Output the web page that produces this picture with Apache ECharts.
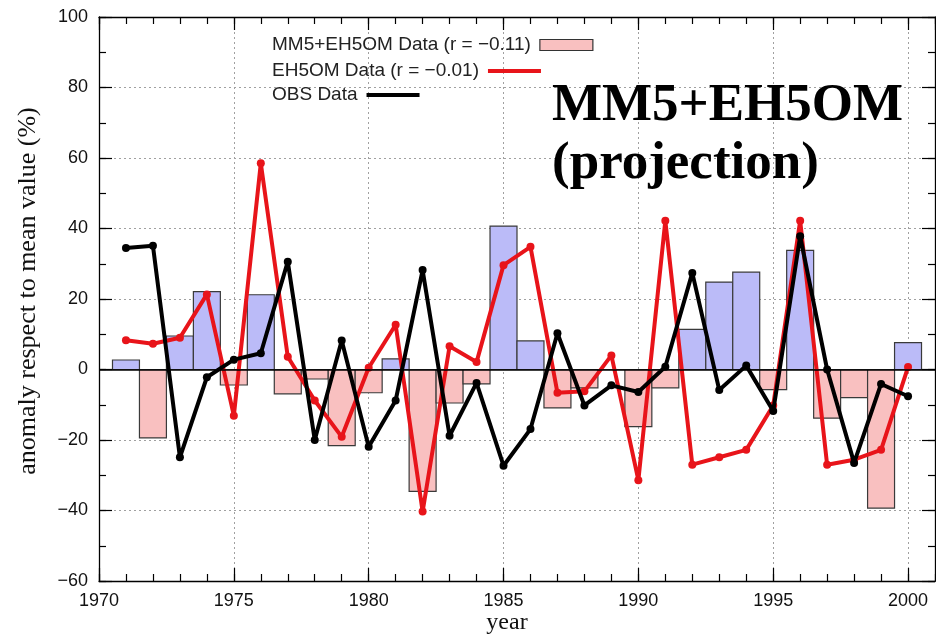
<!DOCTYPE html>
<html>
<head>
<meta charset="utf-8">
<script src="https://cdn.jsdelivr.net/npm/echarts@6/dist/echarts.min.js"></script>
<style>html,body{margin:0;padding:0;background:#fff;}#chart{width:936px;height:635px;}</style>
</head>
<body>
<div id="chart"></div>
<script>
const years = [1971,1972,1973,1974,1975,1976,1977,1978,1979,1980,1981,1982,1983,1984,1985,1986,1987,1988,1989,1990,1991,1992,1993,1994,1995,1996,1997,1998,1999,2000];
const mm5eh5om = [2.7,-19.4,9.5,22.1,-4.4,21.2,-6.9,-2.7,-21.6,-6.6,3.0,-34.6,-9.5,-4.1,40.7,8.1,-10.9,-5.2,0,-16.2,-5.2,11.4,24.8,27.6,-5.7,33.8,-13.8,-8.0,-39.3,7.6];
const eh5om = [8.3,7.3,9.0,21.3,-13.1,58.5,3.6,-8.8,-19.1,0.5,12.7,-40.3,6.6,2.1,29.6,34.8,-6.6,-6.2,4.0,-31.4,42.2,-27.0,-24.9,-22.8,-10.2,42.2,-27.0,-25.6,-22.8,0.7];
const obs = [34.5,35.1,-24.9,-2.2,2.8,4.6,30.6,-20.0,8.2,-21.9,-8.8,28.2,-18.8,-3.8,-27.3,-16.9,10.3,-10.2,-4.5,-6.4,0.8,27.4,-5.8,1.1,-11.8,37.8,0,-26.5,-4.1,-7.6];
const seriesNames = ['MM5+EH5OM Data (r = \u22120.11)', 'EH5OM Data (r = \u22120.01)', 'OBS Data'];
const xName = 'year';
const yName = 'anomaly respect to mean value (%)';
const annotation = ['MM5+EH5OM', '(projection)'];

const X_MIN = 1970, X_MAX = 2001, Y_MIN = -60, Y_MAX = 100;
const BLUE = '#bbbbf8', PINK = '#f9c0c0', RED = '#e8141a';
const SANS = '"Liberation Sans", Arial, sans-serif';
const SERIF = '"Liberation Serif", "Times New Roman", serif';

const chart = echarts.init(document.getElementById('chart'));
const fmtNum = v => (v < 0 ? '\u2212' + Math.abs(v) : String(v));
const grid = {left: 99, right: 1, top: 17, bottom: 54};
const dotted = {show: true, lineStyle: {color: '#a0a0a0', type: [2, 3], width: 1}};

function xAx(pos, interval, major, labels) {
  return {
    type: 'value', position: pos, min: X_MIN, max: X_MAX, interval: interval,
    axisLine: {show: major, onZero: false, lineStyle: {color: '#000', width: 1.3}},
    axisTick: {show: true, inside: true, length: major ? 13 : 7, lineStyle: {color: '#000', width: 1.2}},
    axisLabel: {show: labels, showMaxLabel: false, color: '#111', fontSize: 18, fontFamily: SANS, margin: 11,
      formatter: v => (v % 5 === 0 ? String(v) : '')},
    splitLine: (labels ? dotted : {show: false}),
    minorTick: {show: false}, minorSplitLine: {show: false}
  };
}
function yAx(pos, interval, major, labels) {
  return {
    type: 'value', position: pos, min: Y_MIN, max: Y_MAX, interval: interval,
    axisLine: {show: major, onZero: false, lineStyle: {color: '#000', width: 1.3}},
    axisTick: {show: true, inside: true, length: major ? 13 : 7, lineStyle: {color: '#000', width: 1.2}},
    axisLabel: {show: labels, color: '#111', fontSize: 18, fontFamily: SANS, margin: 11, formatter: fmtNum},
    splitLine: (labels ? dotted : {show: false})
  };
}
function legendRow(top, item) {
  return {
    orient: 'vertical', left: 267, top: top, align: 'right',
    itemWidth: 53, itemHeight: 11, itemGap: 0,
    textStyle: {fontSize: 19, fontFamily: SANS, color: '#222', lineHeight: 20, padding: [0, 4, 0, 0]},
    selectedMode: false,
    data: [item]
  };
}

const barData = years.map((y, i) => [y, mm5eh5om[i]]);
const redData = years.map((y, i) => [y, eh5om[i]]);
const obsData = years.map((y, i) => [y, obs[i]]);

const option = {
  animation: false,
  backgroundColor: '#fff',
  grid: grid,
  xAxis: [xAx('bottom', 5, true, true), xAx('bottom', 1, false, false), xAx('top', 5, true, false), xAx('top', 1, false, false)],
  yAxis: [yAx('left', 20, true, true), yAx('left', 10, false, false), yAx('right', 20, true, false), yAx('right', 10, false, false)],
  legend: [
    legendRow(30, {name: seriesNames[0], icon: 'rect', itemStyle: {color: PINK, borderColor: '#333', borderWidth: 1.2}}),
    legendRow(56, {name: seriesNames[1], icon: 'path://M0 0H53V4H0Z', itemStyle: {color: RED}}),
    legendRow(80, {name: seriesNames[2], icon: 'path://M0 0H53V4H0Z', itemStyle: {color: '#000'}})
  ],
  graphic: [
    {type: 'text', x: 28, y: 291, rotation: Math.PI / 2, z: 10,
      style: {text: yName, font: '26px ' + SERIF, fill: '#111', align: 'center', verticalAlign: 'middle'}},
    {type: 'text', x: 507, y: 623, z: 10,
      style: {text: xName, font: '24px ' + SERIF, fill: '#111', align: 'center', verticalAlign: 'middle'}},
    {type: 'text', x: 552, y: 80, z: 10,
      style: {text: annotation[0], font: 'bold 53px ' + SERIF, fill: '#000', align: 'left', verticalAlign: 'top'}},
    {type: 'text', x: 552, y: 138, z: 10,
      style: {text: annotation[1], font: 'bold 53px ' + SERIF, fill: '#000', align: 'left', verticalAlign: 'top'}}
  ],
  series: [
    {
      name: seriesNames[0], type: 'custom', xAxisIndex: 0, yAxisIndex: 0, z: 2,
      itemStyle: {color: PINK},
      encode: {x: 0, y: 1},
      data: barData,
      renderItem: function (params, api) {
        const x = api.value(0), v = api.value(1);
        const p0 = api.coord([x - 0.5, 0]);
        const p1 = api.coord([x + 0.5, v]);
        return {
          type: 'rect',
          shape: {x: p0[0], y: Math.min(p0[1], p1[1]), width: p1[0] - p0[0], height: Math.abs(p1[1] - p0[1])},
          style: {fill: v >= 0 ? BLUE : PINK, stroke: '#3a3a3a', lineWidth: 1.2}
        };
      },
      markLine: {
        silent: true, symbol: 'none', label: {show: false},
        lineStyle: {color: '#000', type: 'solid', width: 1.5},
        data: [{yAxis: 0}]
      }
    },
    {
      name: seriesNames[1], type: 'line', xAxisIndex: 0, yAxisIndex: 0, z: 3,
      data: redData, color: RED,
      lineStyle: {color: RED, width: 4},
      symbol: 'circle', symbolSize: 8, showAllSymbol: true,
      itemStyle: {color: RED}
    },
    {
      name: seriesNames[2], type: 'line', xAxisIndex: 0, yAxisIndex: 0, z: 4,
      data: obsData, color: '#000',
      lineStyle: {color: '#000', width: 4},
      symbol: 'circle', symbolSize: 8, showAllSymbol: true,
      itemStyle: {color: '#000'}
    }
  ]
};
chart.setOption(option);
</script>
</body>
</html>
